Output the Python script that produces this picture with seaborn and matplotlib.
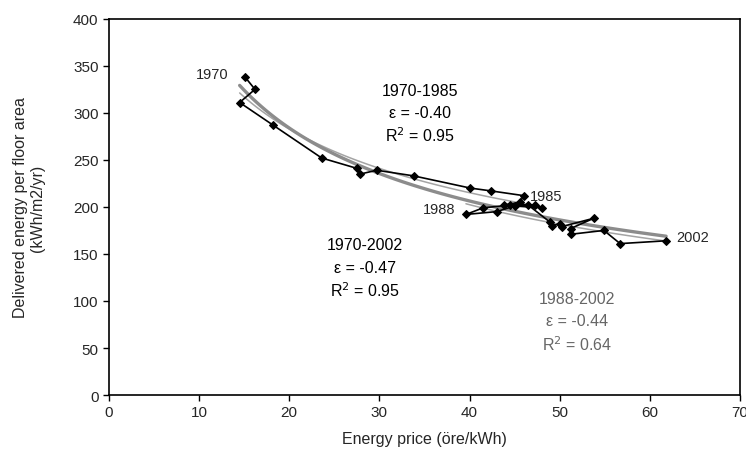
import numpy as np
import pandas as pd
import matplotlib
matplotlib.use("Agg")
import matplotlib.pyplot as plt
import seaborn as sns

years = list(range(1970, 2003))
price = [15.1, 16.2, 14.5, 18.2, 23.6, 27.5, 27.9, 29.7, 33.8, 40.1, 42.4,
         46.0, 45.6, 43.8, 47.3, 48.0, 45.0, 43.0, 39.6, 41.5, 43.0, 44.5,
         46.5, 48.9, 49.1, 50.0, 50.2, 53.8, 51.2, 51.3, 54.9, 56.7, 61.8]
energy = [338, 325, 311, 287, 252, 241, 235, 239, 233, 220, 217,
          212, 205, 202, 202, 199, 201, 195, 192, 199, 195, 202,
          202, 184, 180, 182, 179, 188, 177, 171, 175, 161, 164]

periods = [(1970, 1985), (1970, 2002), (1988, 2002)]
period_labels = ["1970-1985", "1970-2002", "1988-2002"]
eps_labels = ["ε = -0.40", "ε = -0.47", "ε = -0.44"]
r2_labels = ["R$^2$ = 0.95", "R$^2$ = 0.95", "R$^2$ = 0.64"]
year_labels = [1970, 1985, 1988, 2002]

df = pd.DataFrame({"year": years, "price": price, "energy": energy})

sns.set_style("white")
plt.rcParams['font.family'] = ['Liberation Sans', 'DejaVu Sans']

fig = plt.figure(figsize=(7.46, 4.60), dpi=100)
ax = fig.add_axes([0.146, 0.139, 0.846, 0.818])

fit_styles = {"1970-1985": dict(color="#a4a4a4", lw=1.1),
              "1970-2002": dict(color="#8c8c8c", lw=2.4),
              "1988-2002": dict(color="#a4a4a4", lw=1.1)}

for (y0, y1), lab in zip(periods, period_labels):
    sub = df[(df.year >= y0) & (df.year <= y1)]
    b, a = np.polyfit(np.log(sub.price), np.log(sub.energy), 1)
    xs = np.linspace(sub.price.min(), sub.price.max(), 100)
    fit = pd.DataFrame({"x": xs, "y": np.exp(a) * xs ** b})
    sns.lineplot(data=fit, x="x", y="y", ax=ax, sort=False, zorder=2,
                 **fit_styles[lab])

sns.lineplot(data=df, x="price", y="energy", sort=False, ax=ax, color="black",
             lw=1.2, marker="D", markersize=4, markeredgecolor="black",
             zorder=3)

# year labels
pos = {1970: (11.5, 341), 1985: (48.5, 212), 1988: (36.6, 198), 2002: (64.7, 168)}
for yr in year_labels:
    ax.text(*pos[yr], str(yr), fontsize=10.5, ha="center", va="center")

# period annotations
ann = {"1970-1985": (34.5, [324, 300, 277], "black"),
       "1970-2002": (28.4, [160, 136, 112], "black"),
       "1988-2002": (51.9, [103, 79, 55], "#666666")}
for lab, e, r in zip(period_labels, eps_labels, r2_labels):
    x, ys, c = ann[lab]
    for t, yy in zip([lab, e, r], ys):
        ax.text(x, yy, t, fontsize=11.5, ha="center", va="center", color=c)

ax.set_xlim(0, 70)
ax.set_ylim(0, 400)
ax.set_xticks(range(0, 71, 10))
ax.set_yticks(range(0, 401, 50))
ax.tick_params(axis="both", labelsize=11, length=4, width=1, direction="out",
               left=True, bottom=True, color="black")
ax.set_xlabel("Energy price (öre/kWh)", fontsize=11.5, labelpad=8)
ax.set_ylabel("Delivered energy per floor area\n(kWh/m2/yr)", fontsize=11.5,
              labelpad=20)
for s in ax.spines.values():
    s.set_color("black")
    s.set_linewidth(1.2)

fig.savefig("out.png", dpi=100)
